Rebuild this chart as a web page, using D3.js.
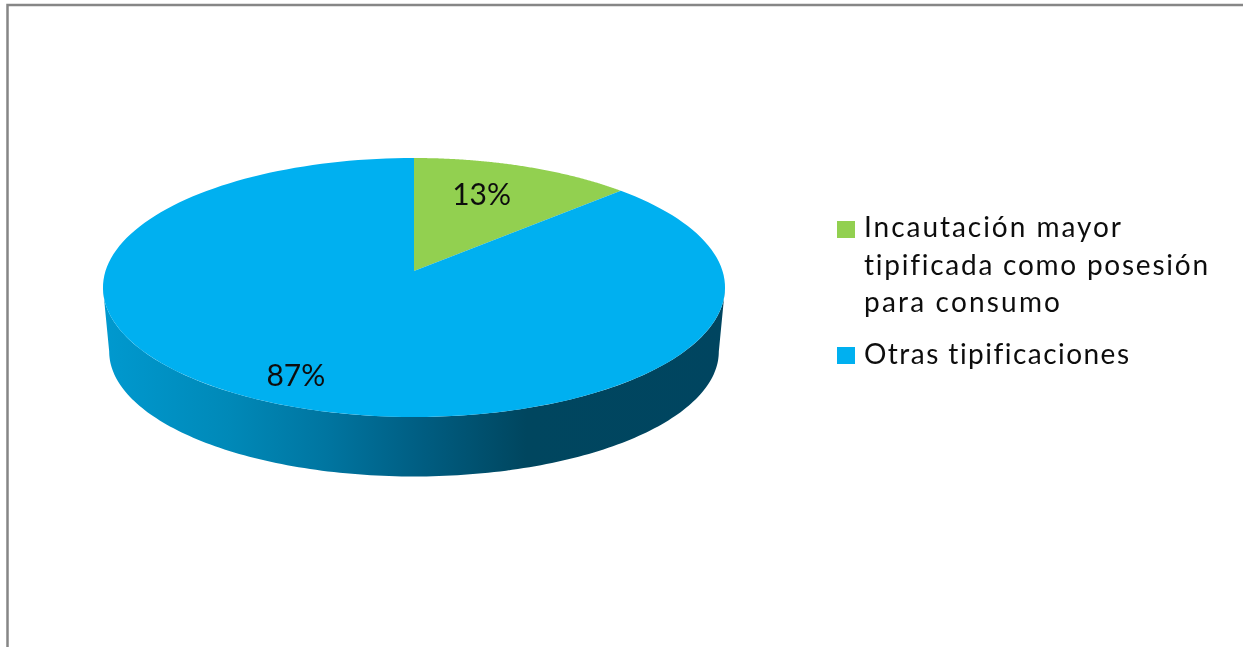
<!DOCTYPE html>
<html><head><meta charset="utf-8">
<style>html,body{margin:0;padding:0;background:#fff;overflow:hidden}svg{display:block}text{font-family:Lato,"Open Sans",sans-serif;fill:#111;font-variant-ligatures:none}</style>
<script src="https://cdn.jsdelivr.net/npm/d3@7"></script></head><body>
<script>
const categories = ["Incautación mayor tipificada como posesión para consumo", "Otras tipificaciones"];
const values = [13, 87];
const legendLines = [["Incautación mayor", "tipificada como posesión", "para consumo"], ["Otras tipificaciones"]];
const colors = ["#92D050", "#00B0F0"];

const W = 1243, H = 647;
const svg = d3.select("body").append("svg").attr("width", W).attr("height", H);
const defs = svg.append("defs");
defs.append("filter").attr("id", "soft").append("feGaussianBlur").attr("stdDeviation", 0.4);

// frame
svg.append("path").attr("d", `M7.5,${H}V5H${W}`).attr("fill", "none").attr("stroke", "#868686").attr("stroke-width", 2.5);

// perspective projection of the pie disc
const cx = 414, apexY = 271, persp = 0.1274, kx = 308.5, ky = 127.4, ellipseY = 288;
function project(a, r = 1, sx = 1, sy = 1, dy = 0) {
  const u = r * Math.sin(a), v = -r * Math.cos(a), w = 1 / (1 - persp * v);
  const y = apexY + ky * v * w;
  return [cx + kx * u * w * sx, ellipseY + (y - ellipseY) * sy + dy];
}
const pieGen = d3.pie().sort(null).value(d => d);
const arcs = pieGen(values);
const line = d3.line();
const sample = (a0, a1, fn, n = 160) => d3.range(n + 1).map(i => fn(a0 + (a1 - a0) * i / n));

// side wall
const edge = Math.PI / 2 + Math.asin(persp);
const aR = edge, aL = 2 * Math.PI - edge;
const grad = defs.append("linearGradient").attr("id", "wall").attr("gradientUnits", "userSpaceOnUse")
  .attr("x1", 104).attr("x2", 725).attr("y1", 0).attr("y2", 0);
[[0, "#0099CF"], [0.2, "#0089B8"], [0.36, "#0075A0"], [0.5, "#005F84"], [0.68, "#00465F"], [1, "#004560"]]
  .forEach(s => grad.append("stop").attr("offset", s[0]).attr("stop-color", s[1]));
const bottomRim = a => project(a, 1, 0.98, 0.965, 64);
const topRim = a => project(a);
svg.append("path")
  .attr("d", line([...sample(aR, aL, topRim), ...sample(aL, aR, bottomRim)]) + "Z")
  .attr("fill", "url(#wall)");

// top slices
svg.selectAll("path.slice").data(arcs).join("path").attr("class", "slice")
  .attr("d", d => line([project(0, 0), ...sample(d.startAngle, d.endAngle, topRim)]) + "Z")
  .attr("fill", (d, i) => colors[i]);

// percent labels
const labelNudge = [[-22, 10], [-10, 2]];
svg.selectAll("text.pct").data(arcs).join("text").attr("class", "pct")
  .attr("text-anchor", "middle").attr("font-size", 30).attr("filter", "url(#soft)")
  .attr("x", (d, i) => project((d.startAngle + d.endAngle) / 2, 0.8)[0] + labelNudge[i][0])
  .attr("y", (d, i) => project((d.startAngle + d.endAngle) / 2, 0.8)[1] + labelNudge[i][1] + 10)
  .text(d => d.value + "%");

// legend
const swatchTop = [221, 347];
const baselines = [[237, 275, 312], [364]];
const lineWidths = [[257, 344, 196], [265]];
legendLines.forEach((lines, i) => {
  svg.append("rect").attr("x", 837).attr("y", swatchTop[i]).attr("width", 18).attr("height", 17).attr("fill", colors[i]);
  lines.forEach((t, j) => {
    svg.append("text").attr("x", 864).attr("y", baselines[i][j]).attr("font-size", 28)
      .attr("textLength", lineWidths[i][j]).attr("filter", "url(#soft)").text(t);
  });
});
</script></body></html>
